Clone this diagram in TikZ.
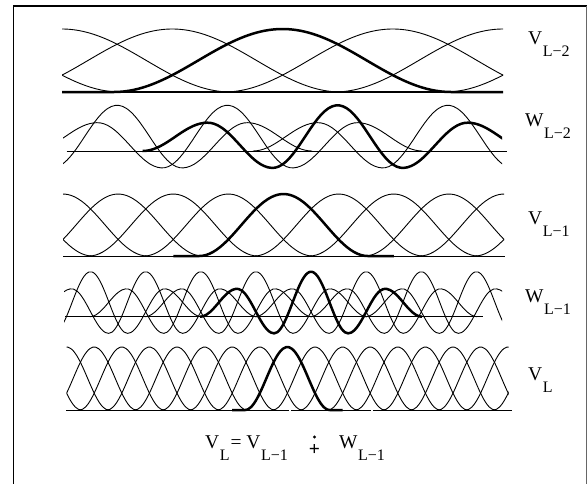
\documentclass[tikz,border=0pt]{standalone}
\usepackage{fontspec}
\setmainfont{Liberation Serif}
\newcommand\myLab[2]{#1\kern0.5pt\raisebox{-12.5pt}{\fontsize{16}{16}\selectfont #2}}
\begin{document}
\begin{tikzpicture}[x=1pt,y=-1pt,
  thincurve/.style={line width=0.9pt, line join=round},
  thickcurve/.style={line width=2.5pt, line join=round},
  baseln/.style={line width=0.9pt},
  lab/.style={font=\fontsize{19.5}{21}\selectfont, inner sep=0pt, anchor=base west},
  declare function={
    wv(\u)=ifthenelse(abs(\u)<0.5, 0.315+0.685*cos(360*\u),
           ifthenelse(abs(\u)<1, 0.125+0.495*cos(360*\u),
           ifthenelse(abs(\u)<1.5, 0.31+0.31*cos(360*\u), 0)));
    vb(\t)=cos(90*\t)*cos(90*\t);
  }]
\useasboundingbox (0,0) rectangle (587,483);
% frame
\draw[line width=1.8pt] (13.5,490) -- (13.5,6) -- (587,6);
\draw[line width=1.2pt, black!60] (586.4,6) -- (586.4,490);

% ---------- Row 1: V_{L-2}
\begin{scope}
\clip (62,20) rectangle (503,100);
\foreach \k in {-1,...,5}{
  \pgfmathsetmacro\c{62+110.25*\k}
  \ifnum\k=2\relax\else
  \draw[thincurve] plot[domain={\c-168.7}:{\c+168.7}, samples=70, smooth] (\x,{92-63*vb((\x-\c)/168.7)});
  \fi
}
\pgfmathsetmacro\c{62+110.25*2}
\draw[thickcurve] (62,92) -- ({\c-168.7},92) -- plot[domain={\c-168.7}:{\c+168.7}, samples=70, smooth] (\x,{92-63*vb((\x-\c)/168.7)}) -- (503,92);
\end{scope}
\draw[thickcurve] (62,92) -- (503,92);

% ---------- Row 2: W_{L-2}
\draw[baseln] (66.5,151) -- (506.5,151);
\begin{scope}
\clip (63,95) rectangle (502,180);
\foreach \k in {0,1,3}{
  \pgfmathsetmacro\c{62+110.25*(\k+0.5)}
  \draw[thincurve] plot[domain={\c-195}:{\c+195}, samples=110, smooth] (\x,{151-45.7*wv((\x-\c)/130)});
}
\pgfmathsetmacro\c{62+110.25*2.5}
\draw[thickcurve] plot[domain={\c-195}:{\c+195}, samples=110, smooth] (\x,{151-45.7*wv((\x-\c)/130)});
\end{scope}

% ---------- Row 3: V_{L-1}
\draw[baseln] (63,256) -- (504.5,256);
\begin{scope}
\clip (63,185) rectangle (504,262);
\foreach \k in {-2,...,10}{
  \pgfmathsetmacro\c{63+55.125*\k}
  \ifnum\k=4\relax\else
  \draw[thincurve] plot[domain={\c-84.3}:{\c+84.3}, samples=50, smooth] (\x,{256-62*vb((\x-\c)/84.3)});
  \fi
}
\end{scope}
\pgfmathsetmacro\c{63+55.125*4}
\draw[thickcurve] ({\c-110.25},256) -- ({\c-84.3},256) -- plot[domain={\c-84.3}:{\c+84.3}, samples=50, smooth] (\x,{256-62*vb((\x-\c)/84.3)}) -- ({\c+110.25},256);

% ---------- Row 4: W_{L-1}
\draw[baseln] (65,316.7) -- (483,316.7);
\begin{scope}
\clip (64,262) rectangle (502,345);
\foreach \k in {0,...,7}{
  \pgfmathsetmacro\c{63+55.125*(\k+0.5)}
  \ifnum\k=4\relax\else
  \draw[thincurve] plot[domain={\c-111}:{\c+111}, samples=70, smooth] (\x,{316.7-45*wv((\x-\c)/74)});
  \fi
}
\end{scope}
\pgfmathsetmacro\c{63+55.125*4.5}
\draw[thickcurve] plot[domain={\c-111}:{\c+111}, samples=70, smooth] (\x,{316.7-45*wv((\x-\c)/74)});

% ---------- Row 5: V_L
\draw[baseln] (66,410) -- (512,410);
\begin{scope}
\clip (66.5,340) rectangle (508.5,416);
\foreach \k in {-2,...,18}{
  \pgfmathsetmacro\c{66.6+27.6*\k}
  \ifnum\k=8\relax\else
  \draw[thincurve] plot[domain={\c-42.2}:{\c+42.2}, samples=30, smooth] (\x,{410-63*vb((\x-\c)/42.2)});
  \fi
}
\end{scope}
\pgfmathsetmacro\c{66.6+27.6*8}
\draw[thickcurve] ({\c-55.2},410) -- ({\c-42.2},410) -- plot[domain={\c-42.2}:{\c+42.2}, samples=30, smooth] (\x,{410-63*vb((\x-\c)/42.2)}) -- ({\c+55.2},410);
\fill[white] (289,408.5) rectangle (291,411.5);
\fill[white] (371,408.5) rectangle (373,411.5);

% ---------- labels
\node[lab] (l1) at (528,44) {\myLab{V}{L−2}};
\node[lab] (l2) at (525,126) {\myLab{W}{L−2}};
\node[lab] (l3) at (528,224) {\myLab{V}{L−1}};
\node[lab] (l4) at (525,302) {\myLab{W}{L−1}};
\node[lab] (l5) at (528,380) {\myLab{V}{L}};

% ---------- equation
\node[lab] (e1) at (205,448) {\myLab{V}{L}\kern1pt= \myLab{V}{L−1}};
\node[lab, font=\fontsize{19.5}{21}\bfseries, anchor=center] (e2) at (314.5,449.5) {+};
\fill (e2.center) ++(0,-12.5) circle (1.6);
\node[lab] (e3) at (339,448) {\myLab{W}{L−1}};
\end{tikzpicture}
\end{document}
